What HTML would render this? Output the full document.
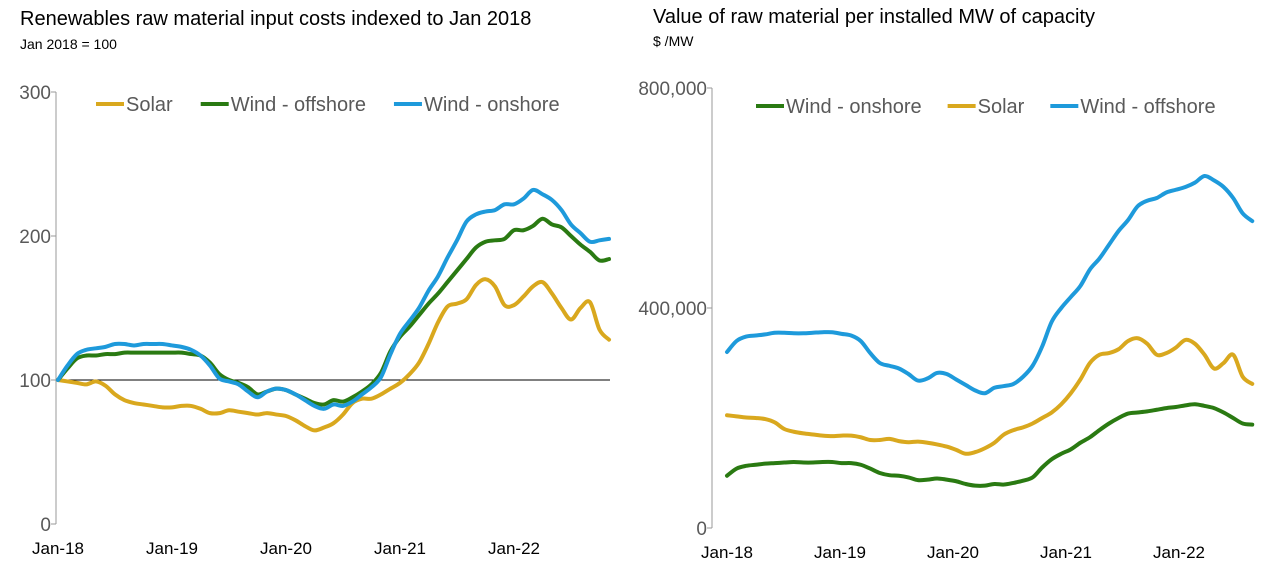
<!DOCTYPE html>
<html><head><meta charset="utf-8"><style>
body{margin:0;background:#fff;font-family:"Liberation Sans",Arial,sans-serif}
svg text{font-family:"Liberation Sans",Arial,sans-serif}
</style></head><body>
<svg id="c" width="1265" height="567" viewBox="0 0 1265 567">
<text x="20" y="25" font-size="20" fill="#000">Renewables raw material input costs indexed to Jan 2018</text>
<text x="20" y="49" font-size="14" fill="#000">Jan 2018 = 100</text>
<text x="653" y="23" font-size="20" fill="#000">Value of raw material per installed MW of capacity</text>
<text x="653" y="46" font-size="14" fill="#000">$ /MW</text>
</svg>
<script>
const xLabels=["Jan-18","Jan-19","Jan-20","Jan-21","Jan-22"];
const leftTicks=[0,100,200,300];
const rightTicks=[0,400000,800000];
const leftSolar=[100,99,98,97,99,96,90,86,84,83,82,81,81,82,82,80,77,77,79,78,77,76,77,76,75,72,68,65,67,70,76,84,87,87,90,94,98,104,112,125,140,151,153,156,166,170,165,152,152,158,165,168,160,150,142,150,154,135,128];
const leftOffshore=[100,108,115,117,117,118,118,119,119,119,119,119,119,119,118,117,112,104,100,98,95,90,92,94,93,90,87,84,83,86,85,88,92,97,105,120,130,137,145,153,160,168,176,184,192,196,197,198,204,204,207,212,208,206,200,194,189,183,184];
const leftOnshore=[100,110,118,121,122,123,125,125,124,125,125,125,124,123,121,117,110,101,99,97,92,88,92,94,93,90,86,82,80,83,82,85,90,95,102,118,132,141,150,162,172,185,197,210,215,217,218,222,222,226,232,229,225,218,208,202,196,197,198];
const rightOnshore=[95,108,113,115,117,118,119,120,119,119,120,120,118,118,115,108,100,96,95,92,87,88,90,88,85,80,77,77,80,79,82,86,92,110,125,135,143,155,165,178,190,200,208,210,212,215,218,220,223,225,222,218,210,200,190,188];
const rightSolar=[205,203,201,200,198,192,180,175,172,170,168,167,168,168,165,160,160,162,158,156,157,155,152,148,142,135,138,145,155,170,178,183,190,200,210,225,245,270,300,315,318,325,340,345,335,315,318,328,342,335,315,290,300,315,275,262];
const rightOffshore=[320,340,348,350,352,355,355,354,354,355,356,356,353,350,340,318,300,295,290,280,268,272,282,280,270,260,250,245,255,258,262,275,295,330,375,400,420,440,470,490,515,540,560,585,595,600,610,615,620,628,640,632,620,600,572,558];
const NS="http://www.w3.org/2000/svg",svg=document.getElementById('c');
function mk(t,a,p){const e=document.createElementNS(NS,t);for(const k in a)e.setAttribute(k,a[k]);(p||svg).appendChild(e);return e;}
function path(pts){let d="M"+pts[0][0]+","+pts[0][1];for(let i=0;i<pts.length-1;i++){const p0=pts[Math.max(i-1,0)],p1=pts[i],p2=pts[i+1],p3=pts[Math.min(i+2,pts.length-1)];d+=" C"+(p1[0]+(p2[0]-p0[0])/6)+","+(p1[1]+(p2[1]-p0[1])/6)+" "+(p2[0]-(p3[0]-p1[0])/6)+","+(p2[1]-(p3[1]-p1[1])/6)+" "+p2[0]+","+p2[1];}return d;}
function chart(cfg){
  const g=mk('g',{});
  
  
  const y=v=>cfg.y0-(v-cfg.vmin)/(cfg.vmax-cfg.vmin)*(cfg.y0-cfg.y1);
  const x=m=>cfg.x0+m*cfg.mw;
  const ax=mk('line',{x1:cfg.ax,x2:cfg.ax,y1:cfg.y1,y2:cfg.y0,stroke:'#999','stroke-width':1},g);
  
  
  cfg.ticks.forEach(t=>{
    mk('line',{x1:cfg.ax-5,x2:cfg.ax,y1:y(t),y2:y(t),stroke:'#999'},g);
    const tx=mk('text',{x:cfg.ax-5,y:y(t)+7,'text-anchor':'end','font-size':19,fill:'#595959'},g);
    tx.textContent=cfg.fmt(t);
    
    
  });
  xLabels.forEach((l,i)=>{
    const tx=mk('text',{x:cfg.xl0+i*cfg.xlStep,y:cfg.y0+30,'text-anchor':'middle','font-size':17,fill:'#000'},g);
    tx.textContent=l;
    
    
  });
  if(cfg.ref!==undefined){
    const r=mk('line',{x1:cfg.ax,x2:cfg.refEnd,y1:y(cfg.ref),y2:y(cfg.ref),stroke:'#000','stroke-width':1},g);
    
    
  }
  cfg.series.forEach(s=>{
    const p=mk('path',{d:path(s.data.map((v,i)=>[x(i),y(v)])),fill:'none',stroke:s.color,'stroke-width':4,'stroke-linejoin':'round','stroke-linecap':'round'},g);
    
    
  });
  let lx=cfg.legX;
  cfg.series.slice().sort((a,b)=>a.lo-b.lo).forEach(s=>{
    const lg=mk('g',{},g);
    
    
    mk('line',{x1:lx,x2:lx+28,y1:cfg.legY,y2:cfg.legY,stroke:s.color,'stroke-width':4},lg);
    const t=mk('text',{x:lx+30,y:cfg.legY+7,'font-size':20,fill:'#595959'},lg);
    t.textContent=s.label;
    lx+=30+t.getComputedTextLength()+cfg.legGap;
  });
}
chart({name:'left-chart',x0:58,mw:9.5,ax:56,y0:524,y1:92,vmin:0,vmax:300,ticks:leftTicks,fmt:v=>String(v),ref:100,refEnd:610,legX:96,legY:104,legGap:28,xl0:58,xlStep:114,
  series:[{id:'solar',label:'Solar',color:'#D9A81E',data:leftSolar,lo:0},{id:'wind-offshore',label:'Wind - offshore',color:'#2A7A12',data:leftOffshore,lo:1},{id:'wind-onshore',label:'Wind - onshore',color:'#1E9ADB',data:leftOnshore,lo:2}]});
chart({name:'right-chart',x0:727,mw:9.55,ax:712,y0:528,y1:88,vmin:0,vmax:800000,ticks:rightTicks,fmt:v=>v.toLocaleString('en-US'),legX:756,legY:106,legGap:26,xl0:727,xlStep:113,
  series:[{id:'wind-onshore',label:'Wind - onshore',color:'#2A7A12',data:rightOnshore.map(v=>v*1000),lo:0},{id:'solar',label:'Solar',color:'#D9A81E',data:rightSolar.map(v=>v*1000),lo:1},{id:'wind-offshore',label:'Wind - offshore',color:'#1E9ADB',data:rightOffshore.map(v=>v*1000),lo:2}]});
</script>
</body></html>
